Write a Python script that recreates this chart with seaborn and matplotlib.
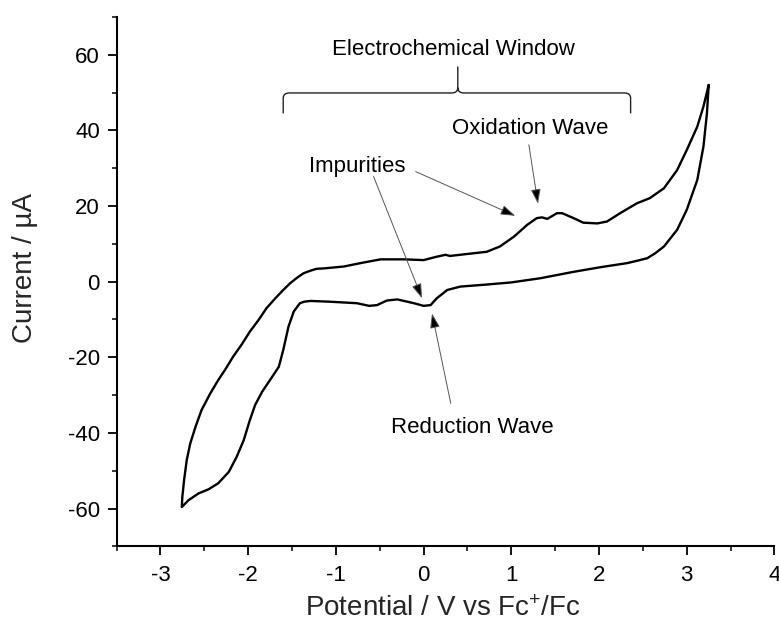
#!/usr/bin/env python3
"""Cyclic voltammogram with electrochemical window annotation."""

import matplotlib

matplotlib.use("Agg")
import matplotlib.pyplot as plt
import pandas as pd
import seaborn as sns
from matplotlib.path import Path
from matplotlib.patches import PathPatch
from matplotlib.ticker import AutoMinorLocator, MultipleLocator

# scan: down the cathodic branch from +3.25 V, back up the anodic one
POTENTIAL_V = [
    3.25, 3.23, 3.19, 3.12, 3.00, 2.89, 2.74, 2.64, 2.55, 2.43, 2.32, 2.01, 1.71,
    1.33, 1.00, 0.70, 0.42, 0.27, 0.15, 0.08, 0.00, -0.11, -0.30, -0.42, -0.53,
    -0.62, -0.76, -1.07, -1.29, -1.36, -1.41, -1.48, -1.54, -1.60, -1.65, -1.75,
    -1.84, -1.92, -1.98, -2.05, -2.13, -2.22, -2.34, -2.45, -2.565, -2.68, -2.756,
    -2.75, -2.73, -2.70, -2.66, -2.60, -2.53, -2.43, -2.34, -2.26,
    -2.17, -2.07, -1.98, -1.88, -1.79, -1.69, -1.60, -1.52, -1.45, -1.37, -1.29,
    -1.22, -1.14, -0.91, -0.72, -0.49, -0.22, 0.00, 0.15, 0.25, 0.30, 0.49, 0.72,
    0.87, 1.03, 1.18, 1.29, 1.35, 1.41, 1.52, 1.58, 1.71, 1.82, 1.98, 2.09, 2.24,
    2.43, 2.58, 2.74, 2.89, 3.00, 3.12, 3.19, 3.25,
]
CURRENT_UA = [
    52.0, 44.5, 35.7, 26.9, 19.0, 13.7, 9.3, 7.5, 6.2, 5.5, 4.9, 3.8, 2.6,
    0.9, -0.2, -0.8, -1.3, -2.2, -4.4, -6.2, -6.4, -5.7, -4.7, -5.0, -6.2,
    -6.4, -5.7, -5.3, -5.1, -5.3, -5.7, -7.9, -11.9, -18.1, -22.5, -26.0,
    -29.1, -32.6, -36.6, -41.9, -46.3, -50.3, -53.3, -54.9, -56.0, -57.8, -59.6,
    -56.9, -52.5, -47.2, -42.8, -38.4, -33.9, -29.5, -26.0, -23.2,
    -19.8, -16.5, -13.2, -10.1, -7.0, -4.4, -2.2, -0.4, 0.9, 2.2, 2.9,
    3.4, 3.5, 4.0, 4.9, 5.9, 5.9, 5.7, 6.6, 7.1, 6.8, 7.3, 7.9,
    9.3, 11.9, 15.0, 16.8, 17.0, 16.6, 18.1, 18.1, 16.8, 15.6, 15.4, 15.9, 18.1,
    20.7, 22.1, 24.7, 29.5, 34.8, 41.0, 46.3, 52.0,
]

# electrochemical window brace (V) and its height (µA)
WINDOW_LOW = -1.60
WINDOW_HIGH = 2.36
WINDOW_MID = 0.39
BRACE_LEVEL = 49.9

LABELS = ["Electrochemical Window", "Impurities", "Oxidation Wave", "Reduction Wave"]
LABEL_XY = [(0.342, 60.0), (-0.76, 29.1), (1.213, 39.0), (0.552, -39.9)]
ARROWS = [  # (tail, head)
    ((-0.09, 29.1), (1.046, 17.4)),
    ((-0.57, 27.8), (-0.018, -4.4)),
    ((1.20, 36.2), (1.304, 20.6)),
    ((0.31, -32.2), (0.096, -8.4)),
]


def brace_path(lo, hi, mid, level, dx=0.07, dy=1.4, tip=7.0, drop=5.4):
    verts = [
        (lo, level - drop), (lo, level - dy), (lo, level), (lo + dx, level),
        (mid - dx, level), (mid, level), (mid, level + dy), (mid, level + tip),
        (mid, level + dy), (mid, level), (mid + dx, level),
        (hi - dx, level), (hi, level), (hi, level - dy), (hi, level - drop),
    ]
    codes = [
        Path.MOVETO, Path.LINETO, Path.CURVE3, Path.CURVE3,
        Path.LINETO, Path.CURVE3, Path.CURVE3, Path.LINETO,
        Path.MOVETO, Path.CURVE3, Path.CURVE3,
        Path.LINETO, Path.CURVE3, Path.CURVE3, Path.LINETO,
    ]
    return Path(verts, codes)


def main():
    sns.set_theme(style="ticks")
    plt.rcParams["font.family"] = ["Liberation Sans", "DejaVu Sans"]
    plt.rcParams["mathtext.default"] = "regular"
    plt.rcParams["axes.unicode_minus"] = False

    cv = pd.DataFrame({"potential": POTENTIAL_V, "current": CURRENT_UA})

    fig, ax = plt.subplots(figsize=(7.79, 6.28), dpi=100)
    fig.subplots_adjust(left=0.1496, right=0.9942, bottom=0.130, top=0.973)

    sns.lineplot(
        data=cv, x="potential", y="current", sort=False, estimator=None,
        color="black", lw=1.7, ax=ax,
    )
    ax.lines[-1].set_solid_joinstyle("round")

    ax.add_patch(PathPatch(
        brace_path(WINDOW_LOW, WINDOW_HIGH, WINDOW_MID, BRACE_LEVEL),
        fill=False, ec="#222222", lw=1.0,
    ))

    for text, (x, y) in zip(LABELS, LABEL_XY):
        ax.text(x, y, text, ha="center", va="baseline", fontsize=16, color="black")

    for tail, head in ARROWS:
        ax.annotate(
            "", xy=head, xytext=tail,
            arrowprops=dict(
                arrowstyle="-|>,head_length=0.6,head_width=0.2",
                mutation_scale=15, ec="#555555", fc="black", lw=0.7,
                shrinkA=0, shrinkB=0,
            ),
        )

    ax.set_xlim(-3.5, 4)
    ax.set_ylim(-70, 70)
    ax.xaxis.set_major_locator(MultipleLocator(1))
    ax.yaxis.set_major_locator(MultipleLocator(20))
    ax.xaxis.set_minor_locator(AutoMinorLocator(2))
    ax.yaxis.set_minor_locator(AutoMinorLocator(2))
    ax.tick_params(which="major", direction="out", length=6.5, width=1.3,
                   labelsize=16, colors="black")
    ax.tick_params(which="minor", direction="out", length=3.3, width=1.3)
    ax.tick_params(axis="x", which="major", pad=7)
    ax.tick_params(axis="y", which="major", pad=5.5)
    sns.despine(ax=ax)
    for side in ("left", "bottom"):
        ax.spines[side].set_linewidth(1.5)
        ax.spines[side].set_color("black")

    ax.set_xlabel("Potential / V vs Fc$^{+}$/Fc", fontsize=20)
    ax.set_ylabel("Current / µA", fontsize=20)
    ax.xaxis.set_label_coords(0.496, -0.093)
    ax.yaxis.set_label_coords(-0.120, 0.526)

    fig.savefig("out.png", dpi=100)
    plt.close(fig)


if __name__ == "__main__":
    main()
